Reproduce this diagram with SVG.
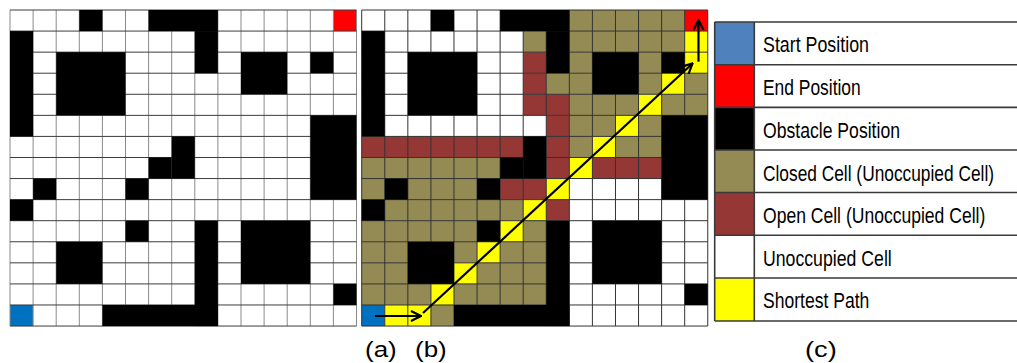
<svg xmlns="http://www.w3.org/2000/svg" width="1017" height="363" viewBox="0 0 1017 363">
<style>
.k{fill:#000}.o{fill:#948A54}.b{fill:#953735}.y{fill:#FFFF00}.r{fill:#FF0000}.s{fill:#0070C0}
.gv{fill:none;stroke:#8a8a8a;stroke-width:1}
.gh{fill:none;stroke:#3c3c3c;stroke-width:1}
.gb{fill:none;stroke:#333;stroke-width:1}
.lt{font-family:"Liberation Sans",Arial,sans-serif;font-size:22px;fill:#000}
.ln{stroke:#3a3a3a;stroke-width:1.6;fill:none}
.ar{stroke:#000;stroke-width:2.2;fill:none}
</style>
<defs>
<marker id="ah" viewBox="0 0 12 12" refX="11" refY="6" markerWidth="12" markerHeight="12" markerUnits="userSpaceOnUse" orient="auto">
<path d="M1,1 L11,6 L1,11" fill="none" stroke="#000" stroke-width="2.2"/>
</marker>
</defs>
<rect width="1017" height="363" fill="#fff"/>

<g id="grid-a">
<g transform="translate(10,10) scale(23.1,21.07)">
<rect class="r" x="14" y="0" width="1" height="1"/>
<rect class="s" x="0" y="14" width="1" height="1"/>
</g>
<path class="gv" d="M10 10V326M33.1 10V326M56.2 10V326M79.3 10V326M102.4 10V326M125.5 10V326M148.6 10V326M171.7 10V326M194.8 10V326M217.9 10V326M241 10V326M264.1 10V326M287.2 10V326M310.3 10V326M333.4 10V326M356.5 10V326"/>
<path class="gh" d="M10 10H356.5M10 31.07H356.5M10 52.14H356.5M10 73.21H356.5M10 94.28H356.5M10 115.35H356.5M10 136.42H356.5M10 157.49H356.5M10 178.56H356.5M10 199.63H356.5M10 220.7H356.5M10 241.77H356.5M10 262.84H356.5M10 283.91H356.5M10 304.98H356.5M10 326.05H356.5"/>
<g transform="translate(10,10) scale(23.1,21.07)">
<rect class="k" x="3" y="0" width="1" height="1"/>
<rect class="k" x="6" y="0" width="3" height="1"/>
<rect class="k" x="0" y="1" width="1" height="5"/>
<rect class="k" x="8" y="1" width="1" height="2"/>
<rect class="k" x="2" y="2" width="3" height="3"/>
<rect class="k" x="10" y="2" width="2" height="2"/>
<rect class="k" x="13" y="2" width="1" height="1"/>
<rect class="k" x="13" y="5" width="2" height="4"/>
<rect class="k" x="7" y="6" width="1" height="2"/>
<rect class="k" x="6" y="7" width="1" height="1"/>
<rect class="k" x="1" y="8" width="1" height="1"/>
<rect class="k" x="5" y="8" width="1" height="1"/>
<rect class="k" x="0" y="9" width="1" height="1"/>
<rect class="k" x="5" y="10" width="1" height="1"/>
<rect class="k" x="8" y="10" width="1" height="5"/>
<rect class="k" x="10" y="10" width="3" height="3"/>
<rect class="k" x="2" y="11" width="2" height="2"/>
<rect class="k" x="14" y="13" width="1" height="1"/>
<rect class="k" x="4" y="14" width="5" height="1"/>
</g>
</g>

<g id="grid-b">
<g transform="translate(361.7,10) scale(23.07,21.07)">
<rect class="o" x="9" y="0" width="5" height="1"/><rect class="r" x="14" y="0" width="1" height="1"/>
<rect class="o" x="7" y="1" width="1" height="1"/><rect class="o" x="9" y="1" width="5" height="1"/><rect class="y" x="14" y="1" width="1" height="1"/>
<rect class="b" x="7" y="2" width="1" height="1"/><rect class="o" x="9" y="2" width="1" height="1"/><rect class="o" x="12" y="2" width="1" height="1"/><rect class="y" x="14" y="2" width="1" height="1"/>
<rect class="b" x="7" y="3" width="1" height="1"/><rect class="o" x="8" y="3" width="2" height="1"/><rect class="o" x="12" y="3" width="1" height="1"/><rect class="y" x="13" y="3" width="1" height="1"/><rect class="o" x="14" y="3" width="1" height="1"/>
<rect class="b" x="7" y="4" width="2" height="1"/><rect class="o" x="9" y="4" width="3" height="1"/><rect class="y" x="12" y="4" width="1" height="1"/><rect class="o" x="13" y="4" width="2" height="1"/>
<rect class="b" x="8" y="5" width="1" height="1"/><rect class="o" x="9" y="5" width="2" height="1"/><rect class="y" x="11" y="5" width="1" height="1"/><rect class="o" x="12" y="5" width="1" height="1"/>
<rect class="b" x="0" y="6" width="7" height="1"/><rect class="b" x="8" y="6" width="1" height="1"/><rect class="o" x="9" y="6" width="1" height="1"/><rect class="y" x="10" y="6" width="1" height="1"/><rect class="o" x="11" y="6" width="2" height="1"/>
<rect class="o" x="0" y="7" width="6" height="1"/><rect class="b" x="8" y="7" width="1" height="1"/><rect class="y" x="9" y="7" width="1" height="1"/><rect class="b" x="10" y="7" width="3" height="1"/>
<rect class="o" x="0" y="8" width="1" height="1"/><rect class="o" x="2" y="8" width="3" height="1"/><rect class="b" x="6" y="8" width="2" height="1"/><rect class="y" x="8" y="8" width="1" height="1"/>
<rect class="o" x="1" y="9" width="6" height="1"/><rect class="y" x="7" y="9" width="1" height="1"/><rect class="b" x="8" y="9" width="1" height="1"/>
<rect class="o" x="0" y="10" width="5" height="1"/><rect class="y" x="6" y="10" width="1" height="1"/><rect class="o" x="7" y="10" width="1" height="1"/>
<rect class="o" x="0" y="11" width="2" height="1"/><rect class="o" x="4" y="11" width="1" height="1"/><rect class="y" x="5" y="11" width="1" height="1"/><rect class="o" x="6" y="11" width="2" height="1"/>
<rect class="o" x="0" y="12" width="2" height="1"/><rect class="y" x="4" y="12" width="1" height="1"/><rect class="o" x="5" y="12" width="3" height="1"/>
<rect class="o" x="0" y="13" width="3" height="1"/><rect class="y" x="3" y="13" width="1" height="1"/><rect class="o" x="4" y="13" width="4" height="1"/>
<rect class="s" x="0" y="14" width="1" height="1"/><rect class="y" x="1" y="14" width="2" height="1"/><rect class="o" x="3" y="14" width="1" height="1"/>
</g>
<path class="gb" d="M361.7 10V326M384.77 10V326M407.84 10V326M430.91 10V326M453.98 10V326M477.05 10V326M500.12 10V326M523.19 10V326M546.26 10V326M569.33 10V326M592.4 10V326M615.47 10V326M638.54 10V326M661.61 10V326M684.68 10V326M707.75 10V326"/>
<path class="gb" d="M361.7 10H707.75M361.7 31.07H707.75M361.7 52.14H707.75M361.7 73.21H707.75M361.7 94.28H707.75M361.7 115.35H707.75M361.7 136.42H707.75M361.7 157.49H707.75M361.7 178.56H707.75M361.7 199.63H707.75M361.7 220.7H707.75M361.7 241.77H707.75M361.7 262.84H707.75M361.7 283.91H707.75M361.7 304.98H707.75M361.7 326.05H707.75"/>
<g transform="translate(361.7,10) scale(23.07,21.07)">
<rect class="k" x="3" y="0" width="1" height="1"/>
<rect class="k" x="6" y="0" width="3" height="1"/>
<rect class="k" x="0" y="1" width="1" height="5"/>
<rect class="k" x="8" y="1" width="1" height="2"/>
<rect class="k" x="2" y="2" width="3" height="3"/>
<rect class="k" x="10" y="2" width="2" height="2"/>
<rect class="k" x="13" y="2" width="1" height="1"/>
<rect class="k" x="13" y="5" width="2" height="4"/>
<rect class="k" x="7" y="6" width="1" height="2"/>
<rect class="k" x="6" y="7" width="1" height="1"/>
<rect class="k" x="1" y="8" width="1" height="1"/>
<rect class="k" x="5" y="8" width="1" height="1"/>
<rect class="k" x="0" y="9" width="1" height="1"/>
<rect class="k" x="5" y="10" width="1" height="1"/>
<rect class="k" x="8" y="10" width="1" height="5"/>
<rect class="k" x="10" y="10" width="3" height="3"/>
<rect class="k" x="2" y="11" width="2" height="2"/>
<rect class="k" x="14" y="13" width="1" height="1"/>
<rect class="k" x="4" y="14" width="5" height="1"/>
</g>
</g>

<g id="connectors">
<line class="ar" x1="375" y1="316" x2="421" y2="316" marker-end="url(#ah)"/>
<line class="ar" x1="423" y1="313" x2="692.5" y2="63.5" marker-end="url(#ah)"/>
<line class="ar" x1="698.5" y1="61.7" x2="698.5" y2="20" marker-end="url(#ah)"/>
</g>

<g id="legend">
<rect x="714.7" y="22" width="39.6" height="42.7" fill="#4F81BD"/>
<rect x="714.7" y="64.7" width="39.6" height="42.7" fill="#FF0000"/>
<rect x="714.7" y="107.4" width="39.6" height="42.6" fill="#000"/>
<rect x="714.7" y="150" width="39.6" height="42.5" fill="#948A54"/>
<rect x="714.7" y="192.5" width="39.6" height="42.8" fill="#953735"/>
<rect x="714.7" y="278" width="39.6" height="43" fill="#FFFF00"/>
<path class="ln" d="M714.7 22V321M754.3 22V321M714.7 22H1020M714.7 64.7H1020M714.7 107.4H1020M714.7 150H1020M714.7 192.5H1020M714.7 235.3H1020M714.7 278H1020M714.7 321H1020"/>
<text class="lt" transform="translate(763,52.3) scale(0.785,1)" textLength="135" lengthAdjust="spacingAndGlyphs">Start Position</text>
<text class="lt" transform="translate(763,95) scale(0.785,1)" textLength="124.5" lengthAdjust="spacingAndGlyphs">End Position</text>
<text class="lt" transform="translate(763,137.6) scale(0.785,1)" textLength="174.5" lengthAdjust="spacingAndGlyphs">Obstacle Position</text>
<text class="lt" transform="translate(763,180.5) scale(0.785,1)" textLength="294.3" lengthAdjust="spacingAndGlyphs">Closed Cell (Unoccupied Cell)</text>
<text class="lt" transform="translate(763,223) scale(0.785,1)" textLength="283.2" lengthAdjust="spacingAndGlyphs">Open Cell (Unoccupied Cell)</text>
<text class="lt" transform="translate(763,265.7) scale(0.785,1)" textLength="164" lengthAdjust="spacingAndGlyphs">Unoccupied Cell</text>
<text class="lt" transform="translate(763,308.3) scale(0.785,1)" textLength="135.4" lengthAdjust="spacingAndGlyphs">Shortest Path</text>
</g>

<g id="captions">
<text class="lt" x="365" y="357" textLength="31.7" lengthAdjust="spacingAndGlyphs">(a)</text>
<text class="lt" x="415" y="357" textLength="31.7" lengthAdjust="spacingAndGlyphs">(b)</text>
<text class="lt" x="805" y="357" textLength="31.7" lengthAdjust="spacingAndGlyphs">(c)</text>
</g>
</svg>
